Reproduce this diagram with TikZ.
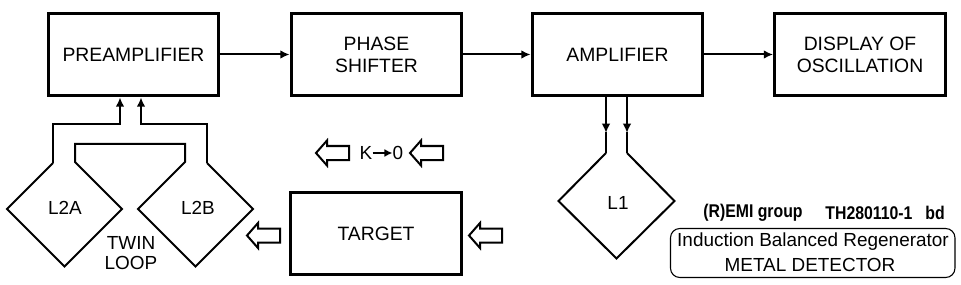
\documentclass[tikz,border=0pt]{standalone}
\usepackage{fontspec}
\setmainfont{Liberation Sans}
\newfontfamily\narrowfont[FakeStretch=0.86]{Liberation Sans}
\usetikzlibrary{arrows.meta}

\tikzset{
  blok/.style={draw, line width=2.3pt, minimum width=128pt, minimum height=62pt,
    align=center, font=\fontsize{14.5}{16.5}\selectfont},
  wire/.style={line width=1.5pt, line join=miter},
  arr/.style={wire, -{Latex[length=7pt,width=6.5pt]}},
  lbl/.style={font=\fontsize{14.2}{16.5}\selectfont, inner sep=0pt},
  hollow/.pic={\draw[line width=1.5pt] (0,0) -- (11,-12.5) -- (11,-7) -- (33,-7)
    -- (33,7) -- (11,7) -- (11,12.5) -- cycle;}
}

\begin{document}
\begin{tikzpicture}[x=0.75pt,y=-0.75pt]
        \useasboundingbox (0,0) rectangle (961,285);
        % blocks
        \node[blok] (pre) at (133.5,54.5) {PREAMPLIFIER};
        \node[blok] (phase) at (376.5,54.5) {PHASE\\SHIFTER};
        \node[blok] (amp) at (617.5,54.5) {AMPLIFIER};
        \node[blok] (disp) at (860,54.5) {DISPLAY OF\\OSCILLATION};
        \node[blok] (target) at (376,233.5) {TARGET};
        \draw[arr] (pre) -- (phase);
        \draw[arr] (phase) -- (amp);
        \draw[arr] (amp) -- (disp);
        % twin loop L2A / L2B
        \coordinate (l2a-in) at (53,163);
        \coordinate (l2b-in) at (207,163);
        \draw[wire] (l2a-in) -- (7,209) -- (64.5,266.5) -- (122,209) -- (75,162)
            |- (185,144) -- (185,162) -- (138,209) -- (195.5,266.5) -- (253,209) -- (l2b-in);
        \draw[arr] (l2a-in) |- (120,124) -- (pre.south -| 120,0);
        \draw[arr] (l2b-in) |- (141,124) -- (pre.south -| 141,0);
        \node[lbl] (l2a) at (65,208) {L2A};
        \node[lbl] (l2b) at (198,208) {L2B};
        \node[lbl, align=center, font=\fontsize{14.2}{15}\selectfont] (twin) at (131,253) {TWIN\\LOOP};
        % loop L1
        \coordinate (l1-a) at (606,153);
        \coordinate (l1-b) at (627,153);
        \draw[wire] (l1-a) -- (558.5,201) -- (616.5,258.5) -- (674.5,201) -- (l1-b);
        \draw[arr] (amp.south -| l1-a) -- (606,133);
        \draw[wire] (606,132) -- (l1-a);
        \draw[arr] (amp.south -| l1-b) -- (627,133);
        \draw[wire] (627,132) -- (l1-b);
        \node[lbl] (l1) at (618,203) {L1};
        % field arrows
        \pic at (247,235.5) {hollow};
        \pic at (469,235.5) {hollow};
        \pic at (316,153) {hollow};
        \pic at (410,153) {hollow};
        \node[lbl] (k) at (366,153) {K};
        \node[lbl] (zero) at (398,153) {0};
        \draw[wire, line width=1.3pt, -{Latex[length=6pt,width=6pt]}] (k) -- (zero);
        % title
        \node[lbl, font=\narrowfont\bfseries\fontsize{13.8}{16}\selectfont] (grp) at (753,213) {(R)EMI group};
        \node[lbl, font=\narrowfont\bfseries\fontsize{13.8}{16}\selectfont] (num) at (869,213) {TH280110-1};
        \node[lbl, font=\narrowfont\bfseries\fontsize{13.8}{16}\selectfont] (bd) at (935,213) {bd};
        \draw[line width=0.8pt, rounded corners=7pt] (670.5,228.5) rectangle (955,277.5);
        \node[lbl] (ibr) at (813,242) {Induction Balanced Regenerator};
        \node[lbl] (md) at (810,265) {METAL DETECTOR};
\end{tikzpicture}
\end{document}
